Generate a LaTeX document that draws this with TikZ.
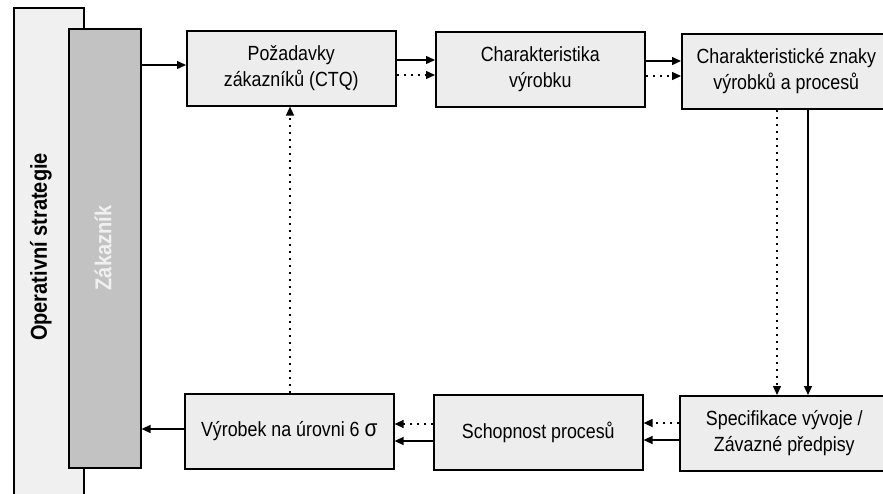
\documentclass[tikz,border=0pt]{standalone}
\usepackage{fontspec}
\setmainfont{Liberation Sans}[FakeStretch=0.87]
\usetikzlibrary{arrows.meta}

\begin{document}
\begin{tikzpicture}[x=1pt,y=-1pt,
  box/.style={draw=black, line width=1.6pt, fill=black!7, align=center,
    minimum width=209pt, minimum height=75pt, inner sep=0pt, anchor=north west,
    font=\fontsize{20.5}{26}\selectfont},
  strip/.style={draw=black, line width=1.6pt, inner sep=0pt, anchor=north west},
  conn/.style={line width=1.4pt, -{Triangle[length=9pt,width=8pt]}},
  dotconn/.style={conn, dash pattern=on 2pt off 5pt}]
\useasboundingbox (0,0) rectangle (883,493);
\clip (0,0) rectangle (883,493);

% side strips
\node[strip, fill=black!6, minimum width=70pt, minimum height=520pt] (strat) at (13,7) {};
\node[strip, fill=black!24, minimum width=72pt, minimum height=439pt] (zak) at (68,28) {};
\node[rotate=90, font=\bfseries\fontsize{23}{24}\selectfont] (strattext) at (41,247) {Operativní strategie};
\node[rotate=90, text=black!6, font=\bfseries\fontsize{23}{24}\selectfont] (zaktext) at (103,248) {Zákazník};

% upper row
\node[box] (b1) at (186,30) {Požadavky\\zákazníků (CTQ)};
\node[box] (b2) at (435,31) {Charakteristika\\výrobku};
\node[box] (b3) at (681,33) {Charakteristické znaky\\výrobků a procesů};

% lower row
\node[box] (c1) at (184,393) {Výrobek na úrovni 6 {\fontsize{24}{26}\selectfont σ}};
\node[box] (c2) at (433,394) {Schopnost procesů};
\node[box] (c3) at (679,395) {Specifikace vývoje /\\Závazné předpisy};

% connectors, upper row
\draw[conn] (zak.east |- 0,65) -- (b1.west |- 0,65);
\draw[conn] (b1.east |- 0,60) -- (b2.west |- 0,60);
\draw[dotconn] (b1.east |- 0,75) -- (b2.west |- 0,75);
\draw[conn] (b2.east |- 0,61) -- (b3.west |- 0,61);
\draw[dotconn] (b2.east |- 0,76) -- (b3.west |- 0,76);

% connectors, down the right side
\draw[dotconn] (b3.south -| 777,0) -- (c3.north -| 777,0);
\draw[conn] (b3.south -| 808,0) -- (c3.north -| 808,0);

% connectors, lower row
\draw[dotconn] (c3.west |- 0,423) -- (c2.east |- 0,423);
\draw[conn] (c3.west |- 0,440) -- (c2.east |- 0,440);
\draw[dotconn] (c2.west |- 0,424) -- (c1.east |- 0,424);
\draw[conn] (c2.west |- 0,441) -- (c1.east |- 0,441);
\draw[conn] (c1.west |- 0,429) -- (zak.east |- 0,429);

% feedback to the requirements
\draw[dotconn] (c1.north -| 290,0) -- (b1.south -| 290,0);
\end{tikzpicture}
\end{document}
